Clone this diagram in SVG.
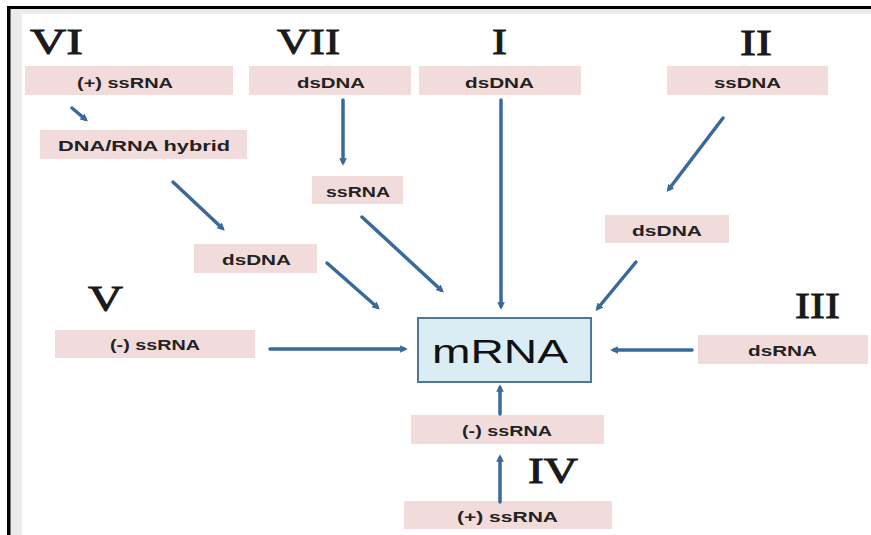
<svg xmlns="http://www.w3.org/2000/svg" width="871" height="535" viewBox="0 0 871 535">
<defs>
<style>
.box{fill:#f2dcdb}
.lbl{font-family:"Liberation Sans",Arial,sans-serif;font-weight:bold;font-size:15px;fill:#222}
.num{font-family:"Liberation Serif","Times New Roman",serif;font-weight:normal;font-size:35px;fill:#1a1a1a;stroke:#1a1a1a;stroke-width:0.9}
.arr{stroke:#3a6a9c;stroke-width:3.5;fill:none;stroke-linecap:round;marker-end:url(#ah)}
</style>
<marker id="ah" viewBox="0 0 10 10" refX="5" refY="5" markerWidth="2.2" markerHeight="2.2" orient="auto" markerUnits="strokeWidth">
<path d="M0,0 L10,5 L0,10 z" fill="#3a6a9c"/>
</marker>
</defs>
<rect x="0" y="0" width="871" height="535" fill="#ffffff"/>
<rect x="10" y="8" width="861" height="6" fill="#ebebeb"/>
<rect x="10" y="8" width="12" height="527" fill="#ebebeb"/>
<rect x="7" y="6" width="864" height="3" fill="#000"/>
<rect x="7" y="6" width="3.5" height="529" fill="#000"/>

<g id="numerals">
<text class="num" x="30" y="54" textLength="53" lengthAdjust="spacingAndGlyphs">VI</text>
<text class="num" x="277" y="54" textLength="63" lengthAdjust="spacingAndGlyphs">VII</text>
<text class="num" x="492" y="54" textLength="15" lengthAdjust="spacingAndGlyphs">I</text>
<text class="num" x="740" y="55" textLength="32" lengthAdjust="spacingAndGlyphs">II</text>
<text class="num" x="88" y="311" textLength="35" lengthAdjust="spacingAndGlyphs">V</text>
<text class="num" x="795" y="318" textLength="45" lengthAdjust="spacingAndGlyphs">III</text>
<text class="num" x="528" y="483" textLength="50" lengthAdjust="spacingAndGlyphs">IV</text>
</g>

<g id="vi-ssrna"><rect class="box" x="25" y="66" width="208" height="29"/><text class="lbl" x="77" y="88" textLength="96" lengthAdjust="spacingAndGlyphs">(+) ssRNA</text></g>
<g id="vii-dsdna"><rect class="box" x="249" y="66" width="162" height="29"/><text class="lbl" x="297" y="88" textLength="68" lengthAdjust="spacingAndGlyphs">dsDNA</text></g>
<g id="i-dsdna"><rect class="box" x="419" y="66" width="162" height="29"/><text class="lbl" x="465" y="88" textLength="69" lengthAdjust="spacingAndGlyphs">dsDNA</text></g>
<g id="ii-ssdna"><rect class="box" x="667" y="66" width="161" height="29"/><text class="lbl" x="714" y="88" textLength="67" lengthAdjust="spacingAndGlyphs">ssDNA</text></g>
<g id="vi-hybrid"><rect class="box" x="40" y="130" width="207" height="29"/><text class="lbl" x="58" y="151" textLength="172" lengthAdjust="spacingAndGlyphs">DNA/RNA hybrid</text></g>
<g id="vii-ssrna"><rect class="box" x="312" y="176" width="91" height="28"/><text class="lbl" x="326" y="197" textLength="64" lengthAdjust="spacingAndGlyphs">ssRNA</text></g>
<g id="ii-dsdna"><rect class="box" x="605" y="215" width="124" height="28"/><text class="lbl" x="632" y="236" textLength="70" lengthAdjust="spacingAndGlyphs">dsDNA</text></g>
<g id="vi-dsdna"><rect class="box" x="194" y="244" width="123" height="29"/><text class="lbl" x="222" y="265" textLength="69" lengthAdjust="spacingAndGlyphs">dsDNA</text></g>
<g id="v-ssrna"><rect class="box" x="55" y="330" width="200" height="28"/><text class="lbl" x="110" y="350" textLength="90" lengthAdjust="spacingAndGlyphs">(-) ssRNA</text></g>
<g id="iii-dsrna"><rect class="box" x="698" y="335" width="170" height="29"/><text class="lbl" x="748" y="356" textLength="69" lengthAdjust="spacingAndGlyphs">dsRNA</text></g>
<g id="iv-minus"><rect class="box" x="411" y="415" width="193" height="29"/><text class="lbl" x="462" y="436" textLength="90" lengthAdjust="spacingAndGlyphs">(-) ssRNA</text></g>
<g id="iv-plus"><rect class="box" x="404" y="501" width="208" height="28"/><text class="lbl" x="457" y="522" textLength="101" lengthAdjust="spacingAndGlyphs">(+)  ssRNA</text></g>

<g id="mrna">
<rect x="418" y="318" width="173" height="64" fill="#daedf5" stroke="#4f7897" stroke-width="2"/>
<text x="432" y="363" font-family="'Liberation Sans',Arial,sans-serif" font-size="33" fill="#111" textLength="136" lengthAdjust="spacingAndGlyphs">mRNA</text>
</g>

<g id="connectors">
<line class="arr" x1="72" y1="108" x2="85" y2="119"/>
<line class="arr" x1="173" y1="182" x2="222" y2="228"/>
<line class="arr" x1="327" y1="263" x2="377" y2="307"/>
<line class="arr" x1="362" y1="217" x2="441" y2="290"/>
<line class="arr" x1="343" y1="100" x2="343" y2="162"/>
<line class="arr" x1="501" y1="100" x2="501" y2="306"/>
<line class="arr" x1="723" y1="118" x2="669" y2="189"/>
<line class="arr" x1="636" y1="262" x2="598" y2="308"/>
<line class="arr" x1="270" y1="349" x2="404" y2="349"/>
<line class="arr" x1="692" y1="350" x2="614" y2="350"/>
<line class="arr" x1="500" y1="414" x2="500" y2="388"/>
<line class="arr" x1="500" y1="502" x2="500" y2="458"/>
</g>
</svg>
